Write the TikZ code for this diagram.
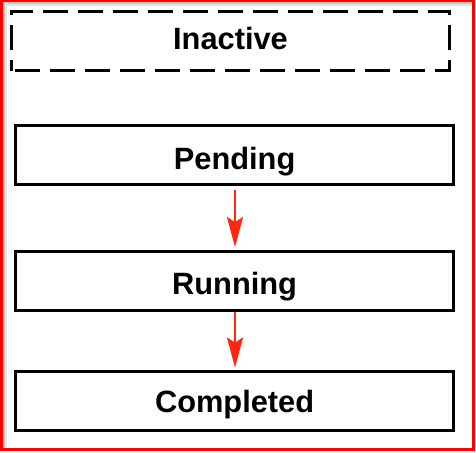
\documentclass[tikz,border=0pt]{standalone}
\usepackage{fontspec}
\setmainfont{Liberation Sans}
\usetikzlibrary{arrows.meta}
\definecolor{arrred}{RGB}{255,40,15}
\definecolor{framered}{RGB}{255,0,0}
\tikzset{
  statebox/.style={draw=black, line width=3.1pt, minimum width=438.4pt, minimum height=59pt,
    inner sep=0pt, text depth=0pt, font=\fontsize{30.8pt}{36pt}\selectfont\bfseries},
  flow/.style={draw=arrred, line width=2.2pt, -{Stealth[length=30pt, width=16pt, inset=5pt]}}
}
\begin{document}
\begin{tikzpicture}[x=1pt, y=-1pt]
\useasboundingbox (0,0) rectangle (476,452);
% frame with inner shadow
\draw[gray!45, line width=2pt] (3,3.2) -- (472,3.2);
\draw[gray!20, line width=2pt] (3,5.2) -- (472,5.2);
\draw[gray!45, line width=2pt] (4.4,3) -- (4.4,448);
\draw[gray!20, line width=2pt] (6.4,3) -- (6.4,448);
\draw[framered, line width=2.8pt] (1.5,0.8) rectangle (473.2,449.5);
% states
\node[statebox, text height=17.4pt, dash pattern=on 25pt off 10pt, dash phase=31.3pt] (inactive) at (230.5,41.3) {Inactive};
\node[statebox, text height=29pt] (pending) at (234.6,154.8) {Pending};
\node[statebox, text height=27.8pt] (running) at (234.6,280.6) {Running};
\node[statebox, text height=23.4pt] (completed) at (234.6,400.6) {Completed};
% transitions
\draw[flow, shorten <=4pt, shorten >=2.5pt] ([xshift=0.4pt]pending.south) -- ([xshift=0.4pt]running.north);
\draw[flow, shorten >=2pt] ([xshift=0.4pt]running.south) -- ([xshift=0.4pt]completed.north);
\end{tikzpicture}
\end{document}
